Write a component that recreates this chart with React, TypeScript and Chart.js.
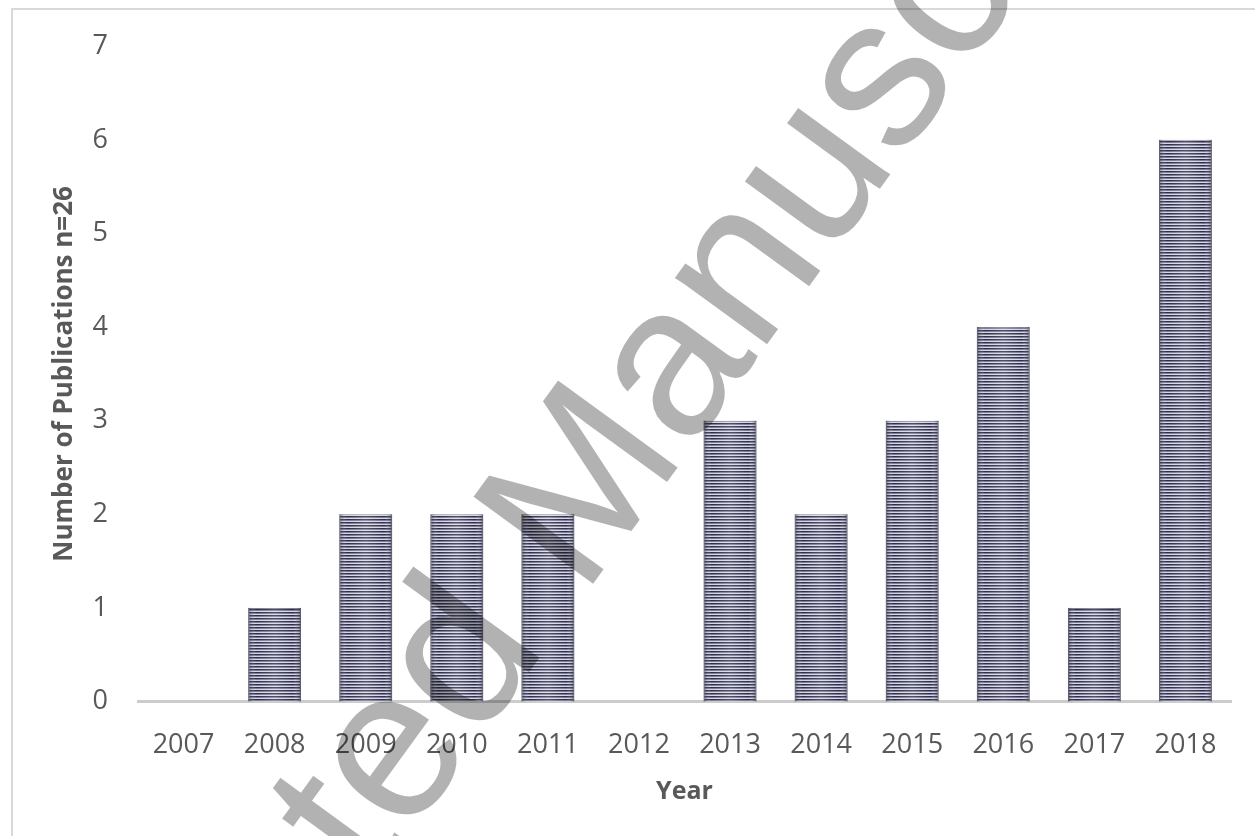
import React, { useEffect, useRef } from 'react';
import { Chart, registerables } from 'chart.js';

Chart.register(...registerables);

const years = ['2007', '2008', '2009', '2010', '2011', '2012', '2013', '2014', '2015', '2016', '2017', '2018'];
const publications = [0, 1, 2, 2, 2, 0, 3, 2, 3, 4, 1, 6];
const yMin = 0;
const yMax = 7;
const yStep = 1;
const yAxisTitle = 'Number of Publications n=26';
const xAxisTitle = 'Year';
const watermarkText = 'Accepted Manuscript';

const FONT = '"Open Sans", "Noto Sans", sans-serif';
const TEXT_COLOR = '#595959';

function makeStripePattern(ctx: CanvasRenderingContext2D): CanvasPattern | string {
  const c = document.createElement('canvas');
  c.width = 4;
  c.height = 3;
  const g = c.getContext('2d');
  if (!g) return '#5a5a78';
  g.fillStyle = '#2c2c4a';
  g.fillRect(0, 0, 4, 1);
  g.fillStyle = '#7a7a96';
  g.fillRect(0, 1, 4, 1);
  g.fillStyle = '#d6d6e2';
  g.fillRect(0, 2, 4, 1);
  return ctx.createPattern(c, 'repeat') || '#5a5a78';
}

const barShadePlugin = {
  id: 'barShade',
  afterDatasetsDraw(chart: any) {
    const ctx = chart.ctx as CanvasRenderingContext2D;
    const meta = chart.getDatasetMeta(0);
    ctx.save();
    meta.data.forEach((bar: any) => {
      const p = bar.getProps(['x', 'y', 'base', 'width'], true);
      const h = p.base - p.y;
      if (Math.abs(h) < 0.5) return;
      const l = p.x - p.width / 2;
      const r = p.x + p.width / 2;
      const g = ctx.createLinearGradient(l, 0, r, 0);
      g.addColorStop(0, 'rgba(30,30,55,0.45)');
      g.addColorStop(0.15, 'rgba(255,255,255,0)');
      g.addColorStop(0.5, 'rgba(255,255,255,0.18)');
      g.addColorStop(0.85, 'rgba(255,255,255,0)');
      g.addColorStop(1, 'rgba(30,30,55,0.45)');
      ctx.fillStyle = g;
      ctx.fillRect(l, p.y, p.width, h);
    });
    ctx.restore();
  },
};

const watermarkPlugin = {
  id: 'watermark',
  afterDraw(chart: any) {
    const ctx = chart.ctx as CanvasRenderingContext2D;
    const angle = (-54 * Math.PI) / 180;
    const size = 215;
    ctx.save();
    ctx.font = `${size}px "Liberation Sans", sans-serif`;
    const prefix = watermarkText.slice(0, 5);
    const w = ctx.measureText(prefix).width;
    const dx = Math.cos(angle);
    const dy = Math.sin(angle);
    const px = 372;
    const py = 888;
    const ox = px - w * dx;
    const oy = py - w * dy;
    ctx.translate(ox, oy);
    ctx.rotate(angle);
    ctx.fillStyle = 'rgba(0,0,0,0.3)';
    ctx.textAlign = 'left';
    ctx.textBaseline = 'alphabetic';
    ctx.fillText(watermarkText, 0, 0);
    ctx.restore();
  },
};

export default function App() {
  const canvasRef = useRef<HTMLCanvasElement | null>(null);

  useEffect(() => {
    const canvas = canvasRef.current;
    if (!canvas) return;
    const ctx = canvas.getContext('2d');
    if (!ctx) return;
    const pattern = makeStripePattern(ctx);

    const chart = new Chart(ctx, {
      type: 'bar',
      data: {
        labels: years,
        datasets: [
          {
            data: publications,
            backgroundColor: pattern as any,
            borderColor: 'rgba(70,70,95,0.7)',
            borderWidth: 1,
            barPercentage: 0.58,
            categoryPercentage: 1,
          },
        ],
      },
      plugins: [barShadePlugin, watermarkPlugin],
      options: {
        responsive: false,
        animation: false,
        devicePixelRatio: 1,
        layout: { padding: { left: 48.6, right: 24, top: 40, bottom: 29 } },
        plugins: {
          legend: { display: false },
          tooltip: { enabled: false },
        },
        scales: {
          x: {
            grid: { display: false, drawTicks: false },
            border: { display: true, color: '#cccccc', width: 3 },
            ticks: {
              color: TEXT_COLOR,
              font: { family: FONT, size: 27 },
              padding: 27.5,
              maxRotation: 0,
              autoSkip: false,
            },
            title: {
              display: true,
              text: xAxisTitle,
              color: TEXT_COLOR,
              font: { family: FONT, size: 25, weight: 'bold' },
              padding: { top: 16, bottom: 0 },
            },
            afterFit: (s: any) => {
              s.height = 105.5;
            },
          },
          y: {
            min: yMin,
            max: yMax,
            grid: { display: false, drawTicks: false },
            border: { display: false },
            ticks: {
              stepSize: yStep,
              color: TEXT_COLOR,
              font: { family: FONT, size: 27 },
              padding: 30,
            },
            title: {
              display: true,
              text: yAxisTitle,
              color: TEXT_COLOR,
              font: { family: FONT, size: 26, weight: 'bold' },
              padding: 0,
            },
            afterFit: (s: any) => {
              s.width = 89.4;
            },
          },
        },
      },
    });
    return () => chart.destroy();
  }, []);

  return (
    <div
      style={{
        position: 'absolute',
        left: 0,
        top: 0,
        width: 1255,
        height: 836,
        overflow: 'hidden',
        background: '#ffffff',
      }}
    >
      <div
        style={{
          position: 'absolute',
          left: 11,
          top: 8,
          width: 1400,
          height: 1000,
          borderLeft: '2px solid #d9d9d9',
          borderTop: '2px solid #d9d9d9',
        }}
      />
      <canvas
        ref={canvasRef}
        width={1255}
        height={836}
        style={{ position: 'absolute', left: 0, top: 0, width: 1255, height: 836 }}
      />
    </div>
  );
}
